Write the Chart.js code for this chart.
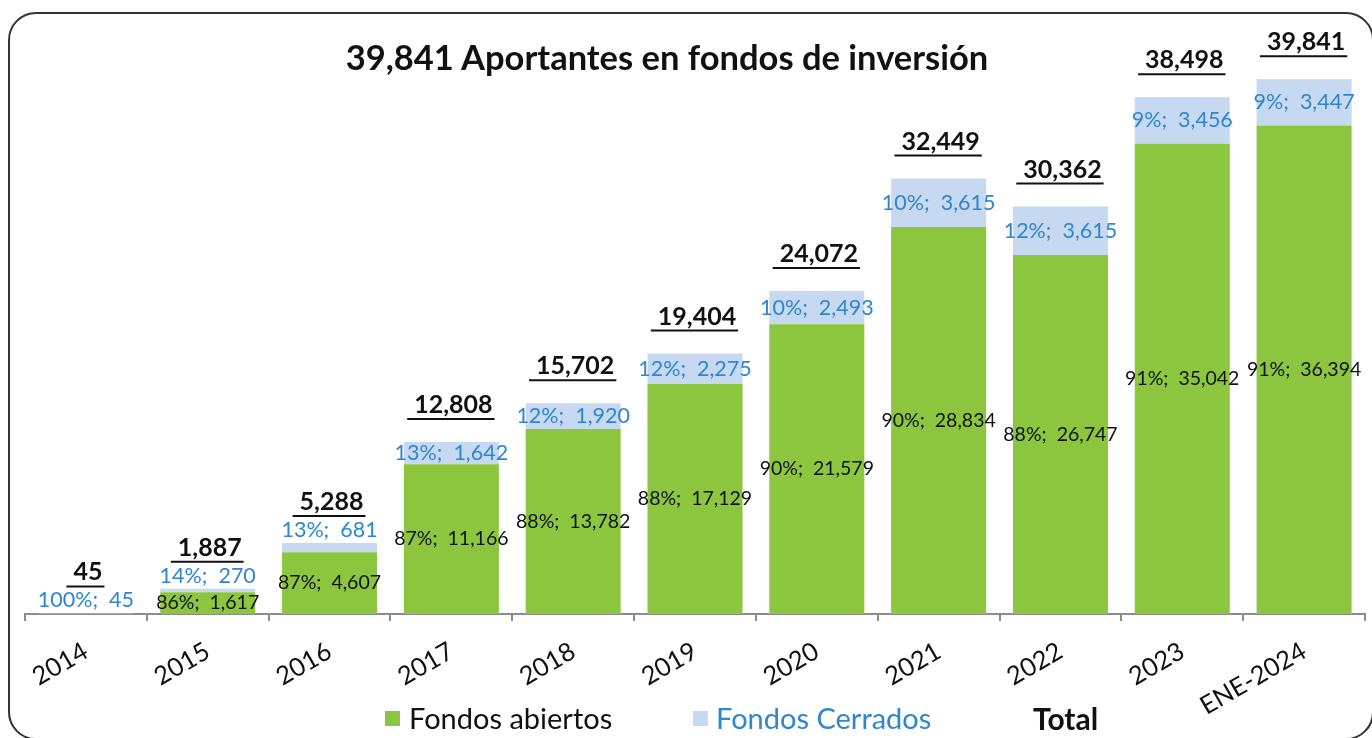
<!DOCTYPE html>
<html>
<head>
<meta charset="utf-8">
<script src="https://cdn.jsdelivr.net/npm/chart.js@4"></script>
<style>
body{margin:0;background:#fff;overflow:hidden;font-family:Lato,sans-serif;}
#wrap{position:relative;width:1372px;height:738px;overflow:hidden;}
#frame{position:absolute;left:8px;top:12px;width:1366px;height:728px;border:2px solid #333;border-radius:28px;box-sizing:border-box;}
#titulo{position:absolute;top:36px;left:0;width:1334px;text-align:center;font-weight:bold;font-size:34.5px;line-height:42px;color:#111;}
.ley{position:absolute;top:700px;font-size:29px;line-height:36px;white-space:nowrap;}
.caja{position:absolute;top:711px;width:15px;height:15px;}
canvas{position:absolute;left:0;top:0;}
</style>
</head>
<body>
<div id="wrap">
  <div id="frame"></div>
  <canvas id="grafico" width="1372" height="738"></canvas>
  <div id="titulo">39,841 Aportantes en fondos de inversión</div>
  <div class="caja" style="left:385px;background:#8cc63f"></div>
  <div class="ley" style="left:409px;color:#111">Fondos abiertos</div>
  <div class="caja" style="left:693px;background:#c6d9f0"></div>
  <div class="ley" style="left:716px;color:#2f86d0">Fondos Cerrados</div>
  <div class="ley" style="left:1033px;color:#111;font-weight:bold;font-size:30px">Total</div>
</div>
<script>
// Datos
const categorias = ['2014','2015','2016','2017','2018','2019','2020','2021','2022','2023','ENE-2024'];
const fondosAbiertos = [0, 1617, 4607, 11166, 13782, 17129, 21579, 28834, 26747, 35042, 36394];
const fondosCerrados = [45, 270, 681, 1642, 1920, 2275, 2493, 3615, 3615, 3456, 3447];
const totales = [45, 1887, 5288, 12808, 15702, 19404, 24072, 32449, 30362, 38498, 39841];
const pctAbiertos = [null, 86, 87, 87, 88, 88, 90, 90, 88, 91, 91];
const pctCerrados = [100, 14, 13, 13, 12, 12, 10, 10, 12, 9, 9];

const verde = '#8cc63f';
const celeste = '#c6d9f0';
const azulTexto = '#2f86d0';

function fmt(n){
    return n.toLocaleString('en-US');
}

// dibuja las etiquetas de cada segmento y el total subrayado
const etiquetas = {
    id: 'etiquetas',
    afterDatasetsDraw(chart){
        const ctx = chart.ctx;
        const metaA = chart.getDatasetMeta(0);
        const metaC = chart.getDatasetMeta(1);
        ctx.save();
        ctx.textAlign = 'center';
        ctx.textBaseline = 'middle';
        categorias.forEach((cat, i) => {
            const a = metaA.data[i];
            const c = metaC.data[i];
            if(fondosAbiertos[i] > 0){
                ctx.font = '19.5px Lato';
                ctx.fillStyle = '#111';
                ctx.fillText(pctAbiertos[i] + '%;  ' + fmt(fondosAbiertos[i]), a.x, (a.y + a.base) / 2);
            }
            let yC = (c.y + c.base) / 2;
            if(c.base - c.y < 20){
                yC = c.y - 13;
            }
            ctx.font = '21.5px Lato';
            ctx.fillStyle = azulTexto;
            ctx.fillText(pctCerrados[i] + '%;  ' + fmt(fondosCerrados[i]), c.x, yC);

            let yT = Math.min(c.y - 37, yC - 28);
            ctx.font = 'bold 25px Lato';
            ctx.fillStyle = '#111';
            const txt = fmt(totales[i]);
            ctx.fillText(txt, c.x + 2, yT);
            const w = ctx.measureText(txt).width;
            ctx.strokeStyle = '#111';
            ctx.lineWidth = 2;
            ctx.beginPath();
            ctx.moveTo(c.x + 2 - w / 2 - 7, yT + 14);
            ctx.lineTo(c.x + 2 + w / 2 + 2, yT + 14);
            ctx.stroke();
        });
        ctx.restore();
    }
};

const ctx = document.getElementById('grafico').getContext('2d');

new Chart(ctx, {
    type: 'bar',
    data: {
        labels: categorias,
        datasets: [{
            label: 'Fondos abiertos',
            data: fondosAbiertos,
            backgroundColor: verde,
            barPercentage: 0.78,
            categoryPercentage: 1
        },{
            label: 'Fondos Cerrados',
            data: fondosCerrados,
            backgroundColor: fondosCerrados.map((v, i) => i === 0 ? '#a9d3e4' : celeste),
            barPercentage: 0.78,
            categoryPercentage: 1
        }]
    },
    options: {
        responsive: false,
        animation: false,
        layout: {
            padding: {left: 25, right: 7, top: 10, bottom: 14}
        },
        scales: {
            x: {
                stacked: true,
                grid: {
                    offset: true,
                    drawOnChartArea: false,
                    tickLength: 7,
                    color: '#8c8c8c',
                    lineWidth: 2
                },
                border: {color: '#8c8c8c', width: 2},
                ticks: {
                    color: '#111',
                    font: {family: 'Lato', size: 25.5},
                    minRotation: 30,
                    maxRotation: 30,
                    autoSkip: false,
                    padding: 15
                },
                afterFit(scale){
                    scale.height = 110;
                }
            },
            y: {
                stacked: true,
                display: false,
                min: 0,
                max: 45000
            }
        },
        plugins: {
            legend: {display: false},
            tooltip: {enabled: false}
        }
    },
    plugins: [etiquetas]
});
</script>
</body>
</html>
